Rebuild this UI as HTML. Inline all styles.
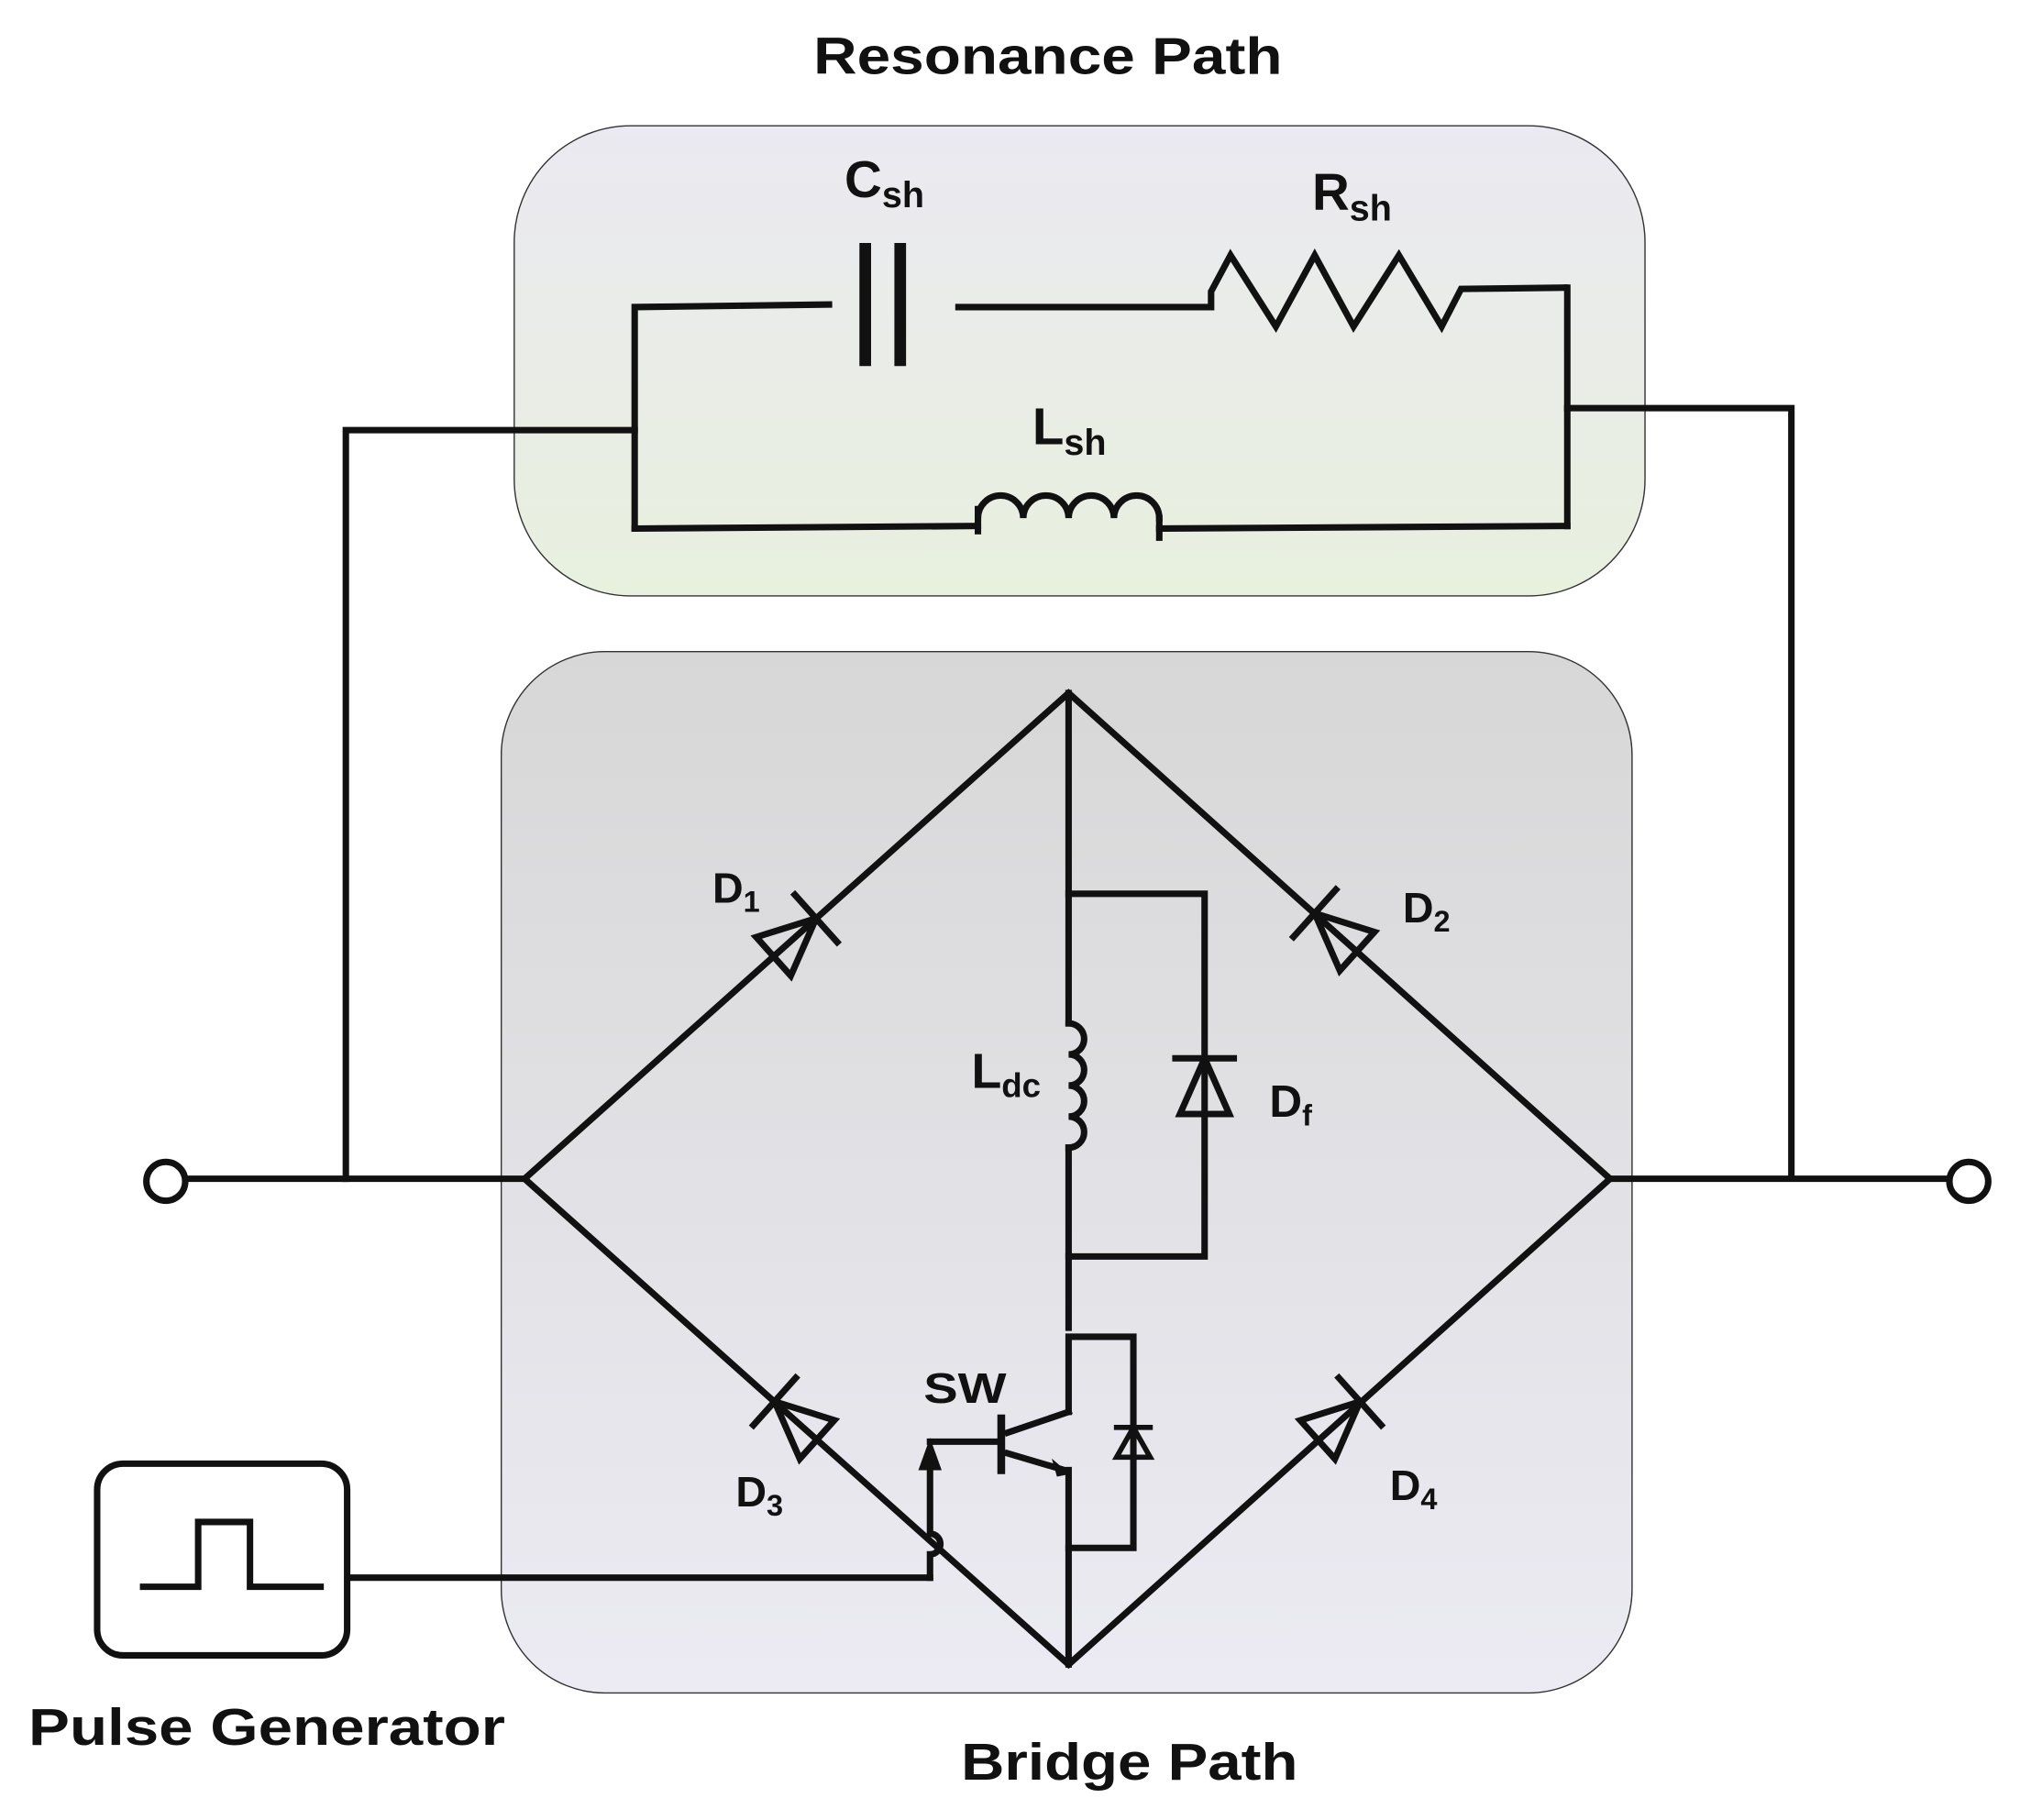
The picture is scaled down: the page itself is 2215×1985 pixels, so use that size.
<!DOCTYPE html>
<html><head><meta charset="utf-8"><style>
html,body{margin:0;padding:0;background:#fff;}
svg{display:block;}
text{font-family:"Liberation Sans",sans-serif;font-weight:bold;fill:#111;}
</style></head><body>
<svg width="2215" height="1985" viewBox="0 0 1568 1405" xmlns="http://www.w3.org/2000/svg">
<defs>
<linearGradient id="g1" x1="0" y1="0" x2="0" y2="1"><stop offset="0" stop-color="#ebe9f1"/><stop offset="1" stop-color="#e8f0de"/></linearGradient>
<linearGradient id="g2" x1="0" y1="0" x2="0" y2="1"><stop offset="0" stop-color="#d7d7d7"/><stop offset="1" stop-color="#ecebf3"/></linearGradient>
<g id="diode"><polygon points="0,0 -44,-20 -44,20" fill="none" stroke="#111" stroke-width="5" stroke-linejoin="miter"/><line x1="0" y1="-27" x2="0" y2="27" stroke="#111" stroke-width="5"/></g>
</defs>
<text x="628" y="57" font-size="40" textLength="362" lengthAdjust="spacingAndGlyphs">Resonance Path</text>
<rect x="397" y="97" width="873" height="363" rx="90" fill="url(#g1)" stroke="#333" stroke-width="1"/>
<rect x="387" y="503" width="873" height="804" rx="80" fill="url(#g2)" stroke="#333" stroke-width="1"/>
<g fill="none" stroke="#111" stroke-width="5" stroke-linecap="square">
<polyline points="490,408 490,237 640,235"/>
<line x1="668" y1="192" x2="668" y2="278" stroke-width="9"/>
<line x1="695" y1="192" x2="695" y2="278" stroke-width="9"/>
<polyline points="740,237 935,237 935,225 950,197 985,252 1015,197 1045,252 1080,197 1113,252 1128,223 1208,222"/>
<line x1="1210" y1="222" x2="1210" y2="406"/>
<polyline points="490,408 755,406"/>
<line x1="755" y1="393" x2="755" y2="410"/>
<path d="M755,400 a17.5,17.5 0 0 1 35,0 a17.5,17.5 0 0 1 35,0 a17.5,17.5 0 0 1 35,0 a17.5,17.5 0 0 1 35,0"/>
<line x1="895" y1="400" x2="895" y2="415"/>
<polyline points="895,408 1210,406"/>
<polyline points="490,332 267,332 267,910"/>
<polyline points="1210,315 1383,315 1383,908"/>
<line x1="143" y1="910" x2="405" y2="910"/>
<line x1="1243" y1="910" x2="1505" y2="910"/>
<polygon points="405,910 825,535 1243,910 825,1285" stroke-linejoin="miter"/>
<line x1="825" y1="535" x2="825" y2="790"/>
<path d="M825,790 a12,12 0 0 1 0,24 a12,12 0 0 1 0,24 a12,12 0 0 1 0,24 a12,12 0 0 1 0,24"/>
<line x1="825" y1="886" x2="825" y2="1025"/>
<polyline points="825,690 930,690 930,970 825,970"/>
<polyline points="825,1090 825,1032 875,1032 875,1195 825,1195"/>
<line x1="825" y1="1135" x2="825" y2="1285"/>
<line x1="773" y1="1095" x2="773" y2="1135" stroke-width="6"/>
<line x1="778" y1="1106" x2="825" y2="1090"/>
<line x1="778" y1="1122" x2="822" y2="1135"/>
<line x1="718" y1="1113" x2="773" y2="1113"/>
<path d="M718,1218 L718,1200 a8,8 0 0 0 0,-16 L718,1130"/>
<line x1="270" y1="1218" x2="718" y2="1218"/>
<rect x="75" y="1130" width="193" height="148" rx="20"/>
<polyline points="108,1225 153,1225 153,1175 193,1175 193,1225 250,1225" stroke-linecap="butt"/>
</g>
<polygon points="718,1110 709,1135 727,1135" fill="#111"/>
<polygon points="826,1138 812,1126 816,1140" fill="#111"/>
<polygon points="930,817 911,860 949,860" fill="none" stroke="#111" stroke-width="5"/>
<line x1="905" y1="817" x2="955" y2="817" stroke="#111" stroke-width="5"/>
<polygon points="875,1102 862,1125 888,1125" fill="none" stroke="#111" stroke-width="4"/>
<line x1="860" y1="1102" x2="890" y2="1102" stroke="#111" stroke-width="4"/>
<use href="#diode" transform="translate(630,709) rotate(-41.8)"/>
<use href="#diode" transform="translate(1015,705) rotate(-138.1)"/>
<use href="#diode" transform="translate(598,1082) rotate(-138.2)"/>
<use href="#diode" transform="translate(1050,1082) rotate(-41.9)"/>
<circle cx="128" cy="912" r="15" fill="#fff" stroke="#111" stroke-width="5"/>
<circle cx="1520" cy="912" r="15" fill="#fff" stroke="#111" stroke-width="5"/>
<text x="652" y="152" font-size="40">C<tspan font-size="28" dy="8">sh</tspan></text>
<text x="1013" y="162" font-size="40">R<tspan font-size="28" dy="8">sh</tspan></text>
<text x="797" y="343" font-size="40">L<tspan font-size="28" dy="8">sh</tspan></text>
<text x="550" y="697" font-size="33">D<tspan font-size="23" dy="7">1</tspan></text>
<text x="1083" y="712" font-size="33">D<tspan font-size="23" dy="7">2</tspan></text>
<text x="568" y="1163" font-size="33">D<tspan font-size="23" dy="7">3</tspan></text>
<text x="1073" y="1158" font-size="33">D<tspan font-size="23" dy="7">4</tspan></text>
<text x="750" y="840" font-size="38">L<tspan font-size="26" dy="7">dc</tspan></text>
<text x="980" y="862" font-size="35">D<tspan font-size="23" dy="7">f</tspan></text>
<text x="713" y="1083" font-size="33" textLength="64" lengthAdjust="spacingAndGlyphs">SW</text>
<text x="22" y="1347" font-size="40" textLength="368" lengthAdjust="spacingAndGlyphs">Pulse Generator</text>
<text x="742" y="1374" font-size="40" textLength="260" lengthAdjust="spacingAndGlyphs">Bridge Path</text>
</svg>
</body></html>
